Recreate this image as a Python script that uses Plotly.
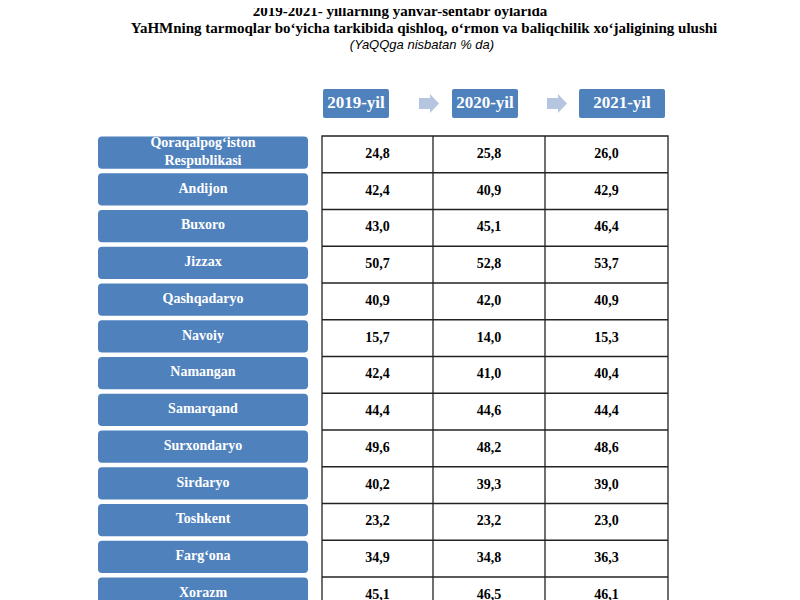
import plotly.graph_objects as go

regions = ["Qoraqalpog‘iston<br>Respublikasi", "Andijon", "Buxoro", "Jizzax", "Qashqadaryo", "Navoiy",
           "Namangan", "Samarqand", "Surxondaryo", "Sirdaryo", "Toshkent", "Farg‘ona", "Xorazm"]
years = ["2019-yil", "2020-yil", "2021-yil"]
v2019 = [24.8, 42.4, 43.0, 50.7, 40.9, 15.7, 42.4, 44.4, 49.6, 40.2, 23.2, 34.9, 45.1]
v2020 = [25.8, 40.9, 45.1, 52.8, 42.0, 14.0, 41.0, 44.6, 48.2, 39.3, 23.2, 34.8, 46.5]
v2021 = [26.0, 42.9, 46.4, 53.7, 40.9, 15.3, 40.4, 44.4, 48.6, 39.0, 23.0, 36.3, 46.1]

BLUE = "#4f81bd"
fig = go.Figure()
shapes = []

def rrect(x0, y0, x1, y1, r=4):
    return (f"M{x0+r},{y0} L{x1-r},{y0} Q{x1},{y0} {x1},{y0+r} L{x1},{y1-r} Q{x1},{y1} {x1-r},{y1} "
            f"L{x0+r},{y1} Q{x0},{y1} {x0},{y1-r} L{x0},{y0+r} Q{x0},{y0} {x0+r},{y0} Z")

top, rh = 136, 36.75
tx0, tx1 = 322, 668
cols = [322, 433, 545, 668]
n = len(regions)
for i in range(n):
    y0 = top + i * rh
    shapes.append(dict(type="path", path=rrect(98, y0 + 0.5, 308, y0 + rh - 4), fillcolor=BLUE,
                       line=dict(width=0), layer="below"))
bottom = top + n * rh
shapes.append(dict(type="rect", x0=tx0, x1=tx1, y0=top, y1=bottom, line=dict(color="#222", width=1.3),
                   fillcolor="white", layer="below"))
for c in cols[1:-1]:
    shapes.append(dict(type="line", x0=c, x1=c, y0=top, y1=bottom, line=dict(color="#222", width=1.3), layer="below"))
for i in range(1, n):
    y = top + i * rh
    shapes.append(dict(type="line", x0=tx0, x1=tx1, y0=y, y1=y, line=dict(color="#222", width=1.3), layer="below"))
hdr = [(323, 389), (452, 518), (579, 665)]
for (a, b) in hdr:
    shapes.append(dict(type="path", path=rrect(a, 89, b, 118, 2), fillcolor=BLUE, line=dict(width=0), layer="below"))
for ax in [419, 547]:
    shapes.append(dict(type="path", path=f"M{ax},98 L{ax+11},98 L{ax+11},94 L{ax+20},103.5 L{ax+11},113 L{ax+11},109 L{ax},109 Z",
                       fillcolor="#b7c6e0", line=dict(width=0), layer="below"))

fig.add_trace(go.Scatter(x=[(a + b) / 2 for a, b in hdr], y=[104] * 3, mode="text", text=[f"<b>{y}</b>" for y in years],
                         textfont=dict(family="Liberation Serif", size=17, color="white"), hoverinfo="skip"))
fig.add_trace(go.Scatter(x=[203] * n, y=[top + i * rh + rh / 2 - 2 for i in range(n)], mode="text",
                         text=[f"<b>{r}</b>" for r in regions],
                         textfont=dict(family="Liberation Serif", size=14, color="white"), hoverinfo="skip"))
fmt = lambda v: f"<b>{v:.1f}</b>".replace(".", ",")
for j, vals in enumerate([v2019, v2020, v2021]):
    cx = (cols[j] + cols[j + 1]) / 2
    fig.add_trace(go.Scatter(x=[cx] * n, y=[top + i * rh + rh / 2 for i in range(n)], mode="text",
                             text=[fmt(v) for v in vals],
                             textfont=dict(family="Liberation Serif", size=14, color="black"), hoverinfo="skip"))

fig.add_trace(go.Scatter(x=[400, 424, 422], y=[12, 29, 46], mode="text",
                         text=["<b>2019-2021- yillarning yanvar-sentabr oylarida</b>",
                               "<b>YaHMning tarmoqlar bo‘yicha tarkibida qishloq, o‘rmon va baliqchilik xo‘jaligining ulushi</b>",
                               "<i>(YaQQga nisbatan % da)</i>"],
                         textfont=dict(family=["Liberation Serif", "Liberation Serif", "Liberation Sans"],
                                       size=[15, 15, 13], color="black"), hoverinfo="skip"))

fig.update_layout(width=800, height=600, margin=dict(l=0, r=0, t=0, b=0), showlegend=False,
                  plot_bgcolor="white", paper_bgcolor="white", shapes=shapes,
                  xaxis=dict(range=[8, 808], visible=False, fixedrange=True),
                  yaxis=dict(range=[608, 8], visible=False, fixedrange=True))
fig.write_html("out.html")
